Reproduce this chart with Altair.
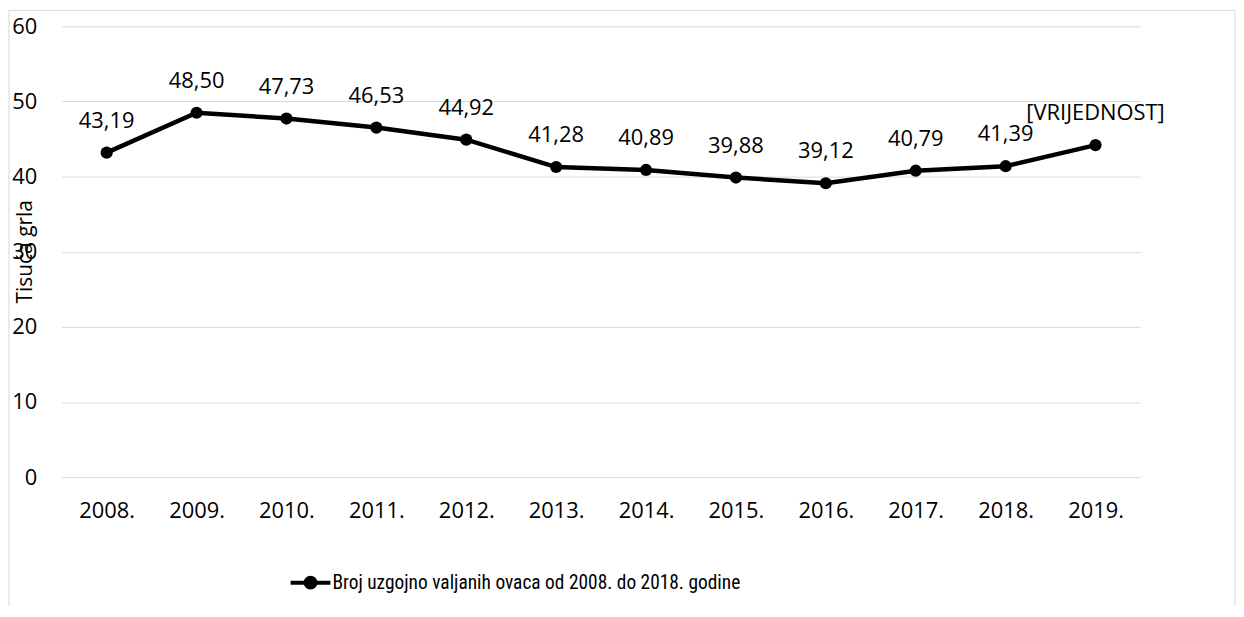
import altair as alt
import pandas as pd

years = ["2008.", "2009.", "2010.", "2011.", "2012.", "2013.", "2014.", "2015.", "2016.", "2017.", "2018.", "2019."]
values = [43.19, 48.50, 47.73, 46.53, 44.92, 41.28, 40.89, 39.88, 39.12, 40.79, 41.39, 44.2]
labels = ["43,19", "48,50", "47,73", "46,53", "44,92", "41,28", "40,89", "39,88", "39,12", "40,79", "41,39", "[VRIJEDNOST]"]
series_name = "Broj uzgojno valjanih ovaca od 2008. do 2018. godine"
y_ticks = [0, 10, 20, 30, 40, 50, 60]

df = pd.DataFrame({"year": years, "value": values, "label": labels, "series": series_name})

FONT = "Open Sans"
NARROW = "Liberation Sans Narrow, Roboto Condensed, Liberation Sans"
GRID = "#d9d9d9"

x_enc = alt.X("year:N", sort=years,
              scale=alt.Scale(paddingInner=0, paddingOuter=0),
              axis=alt.Axis(title=None, labelAngle=0, domain=False, ticks=False,
                            labelPadding=24, labelFontSize=22, labelFont=FONT,
                            labelColor="#000000", grid=False))
y_enc = alt.Y("value:Q", scale=alt.Scale(domain=[0, 60], nice=False, zero=True),
              axis=alt.Axis(title="Tisuća grla", values=y_ticks, domain=False, ticks=False,
                            labelPadding=25, labelFontSize=22, labelFont=FONT,
                            labelColor="#000000", gridColor=GRID, gridWidth=1,
                            titleFont=FONT, titleFontSize=21, titleFontWeight="normal",
                            titleColor="#000000", titleAngle=-90, titleX=-36, titleY=226,
                            titleAlign="center", titleBaseline="middle"))

base = alt.Chart(df)

line = base.mark_line(strokeWidth=4.5).encode(
    x=x_enc, y=y_enc,
    color=alt.Color("series:N",
                    scale=alt.Scale(domain=[series_name], range=["#000000"]),
                    legend=alt.Legend(title=None, orient="none", legendX=228, legendY=537,
                                      symbolType="M-1,0L1,0M-0.25,0A0.25,0.25 0 1,0 0.25,0A0.25,0.25 0 1,0 -0.25,0",
                                      symbolSize=1600, symbolStrokeWidth=4,
                                      symbolFillColor="#000000", symbolStrokeColor="#000000",
                                      labelFont=NARROW, labelFontSize=19.5, labelColor="#000000",
                                      labelLimit=0, labelOffset=0, padding=0)),
)

points = base.mark_point(filled=True, size=150, opacity=1, color="#000000").encode(
    x=alt.X("year:N", sort=years), y="value:Q")

text = base.mark_text(dy=-32, fontSize=22, font=FONT, color="#000000", baseline="middle").encode(
    x=alt.X("year:N", sort=years), y="value:Q", text="label:N")

frame_df = pd.DataFrame({"k": [0]})
left_border = alt.Chart(frame_df).mark_rule(color=GRID, strokeWidth=1).encode(
    x=alt.value(-53), y=alt.value(-16), y2=alt.value(640))
right_border = alt.Chart(frame_df).mark_rule(color=GRID, strokeWidth=1).encode(
    x=alt.value(1179), y=alt.value(-16), y2=alt.value(640))
top_border = alt.Chart(frame_df).mark_rule(color=GRID, strokeWidth=1).encode(
    x=alt.value(-53), x2=alt.value(1179), y=alt.value(-16))

chart = alt.layer(line, points, text, left_border, right_border, top_border).properties(
    width=1084, height=453,
    autosize=alt.AutoSizeParams(type="none"),
    padding={"left": 54, "top": 17, "right": 96, "bottom": 128},
    background="#ffffff",
).configure_view(stroke=None)

chart.save("out.html", embed_options={"renderer": "svg", "actions": False})
